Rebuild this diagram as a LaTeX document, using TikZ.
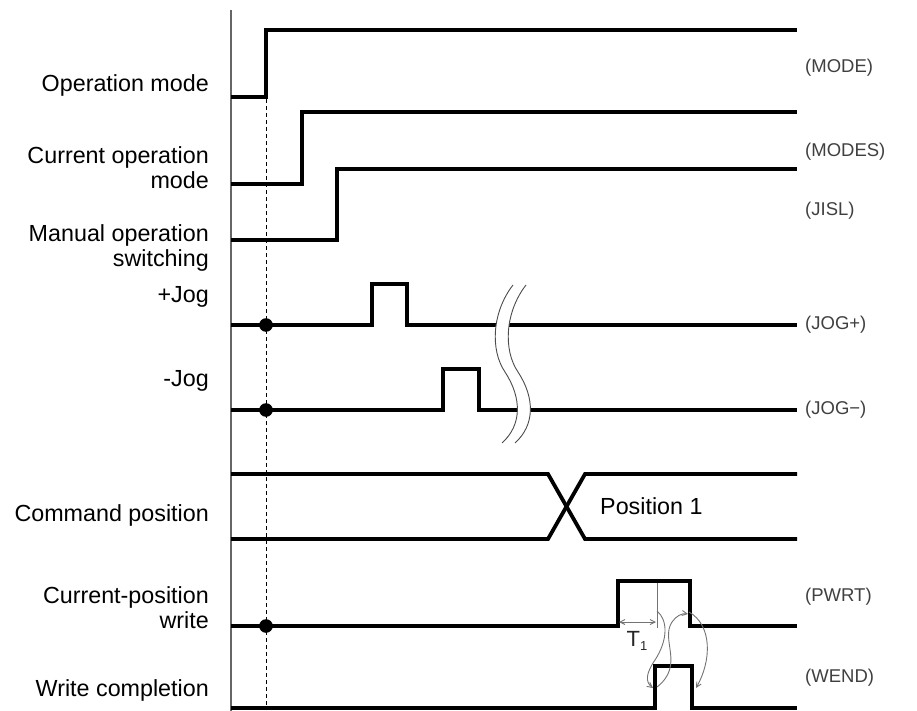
\documentclass[tikz,border=0pt]{standalone}
\usepackage{fontspec}
\setmainfont{Liberation Sans}
\usetikzlibrary{arrows.meta}
\begin{document}
\begin{tikzpicture}[x=1pt,y=-1pt,
  sig/.style={line width=3.8pt, line cap=butt, line join=miter},
  lbl/.style={anchor=east, align=right, inner sep=0pt, font=\fontsize{23.3}{25}\selectfont},
  tag/.style={anchor=west, inner sep=0pt, font=\fontsize{18.5}{20}\selectfont, text=black!75},
  thinline/.style={draw=black!55, line width=0.9pt},
  arr/.style={thinline, -{Straight Barb[length=5pt,width=5pt]}},
]
\useasboundingbox (0,0) rectangle (917,711);

% axis and dashed reference
\draw[draw=black!60, line width=1.2pt] (231,10) -- (231,711);
\draw[line width=0.8pt, dash pattern=on 4pt off 3pt] (266,99) -- (266,705);

% signals
\draw[sig] (231,97) -- (266,97) -- (266,30) -- (797,30);
\draw[sig] (231,184) -- (302,184) -- (302,112) -- (797,112);
\draw[sig] (231,240) -- (337,240) -- (337,169) -- (797,169);
\draw[sig] (231,325) -- (372,325) -- (372,284) -- (407,284) -- (407,325) -- (797,325);
\draw[sig] (231,410) -- (443,410) -- (443,369) -- (479,369) -- (479,410) -- (797,410);
\draw[sig] (231,474) -- (548,474) -- (585,539) -- (797,539);
\draw[sig] (231,539) -- (548,539) -- (585,474) -- (797,474);
\draw[sig] (231,626) -- (618,626) -- (618,581) -- (690,581) -- (690,626) -- (797,626);
\draw[sig] (231,708) -- (655,708) -- (655,666) -- (692,666) -- (692,708) -- (797,708);

% break symbol
\fill[white] (513,285) .. controls (492,312) and (490,350) .. (505,372) .. controls (522,398) and (522,425) .. (502,443)
  -- (515,443) .. controls (535,425) and (535,398) .. (518,372) .. controls (503,350) and (505,312) .. (526,285) -- cycle;
\draw[thinline, draw=black!70] (513,285) .. controls (492,312) and (490,350) .. (505,372) .. controls (522,398) and (522,425) .. (502,443);
\draw[thinline, draw=black!70] (526,285) .. controls (505,312) and (503,350) .. (518,372) .. controls (535,398) and (535,425) .. (515,443);

% dots
\fill (266,325) circle (6.8);
\fill (266,410) circle (6.8);
\fill (266,626) circle (6.8);

% left labels
\node[lbl] (l1) at (209,85) {Operation mode};
\node[lbl] (l2) at (209,168) {Current operation\\mode};
\node[lbl] (l3) at (209,248) {Manual operation\\switching};
\node[lbl] (l4) at (209,297) {+Jog};
\node[lbl] (l5) at (209,381) {-Jog};
\node[lbl] (l6) at (209,515) {Command position};
\node[lbl] (l7) at (209,608) {Current-position\\write};
\node[lbl] (l8) at (209,690) {Write completion};

% right tags
\node[tag] (t1) at (805,68) {(MODE)};
\node[tag] (t2) at (805,152) {(MODES)};
\node[tag] (t3) at (805,211) {(JISL)};
\node[tag] (t4) at (805,325) {(JOG+)};
\node[tag] (t5) at (805,410) {(JOG−)};
\node[tag] (t6) at (805,597) {(PWRT)};
\node[tag] (t7) at (805,678) {(WEND)};

% position text
\node[anchor=west, inner sep=0pt, font=\fontsize{23.3}{25}\selectfont] (p1) at (600,506) {Position 1};

% T1 detail
\draw[thinline] (657,583) -- (657,628);
\draw[thinline, {Straight Barb[length=5pt,width=5pt]}-{Straight Barb[length=5pt,width=5pt]}] (619,622) -- (656,622);
\node[inner sep=0pt, font=\fontsize{22}{22}\selectfont, text=black!85] (tt) at (637,641) {T\raisebox{-0.35ex}{\fontsize{13}{13}\selectfont 1}};
\draw[arr] (657,611) .. controls (668,620) and (668,640) .. (655,660) .. controls (646,673) and (645,682) .. (653,688);
\draw[arr] (657,687) .. controls (685,665) and (660,640) .. (672,622) .. controls (676,616) and (682,613) .. (688,614);
\draw[arr] (689,612) .. controls (712,625) and (712,660) .. (696,688);
\end{tikzpicture}
\end{document}
